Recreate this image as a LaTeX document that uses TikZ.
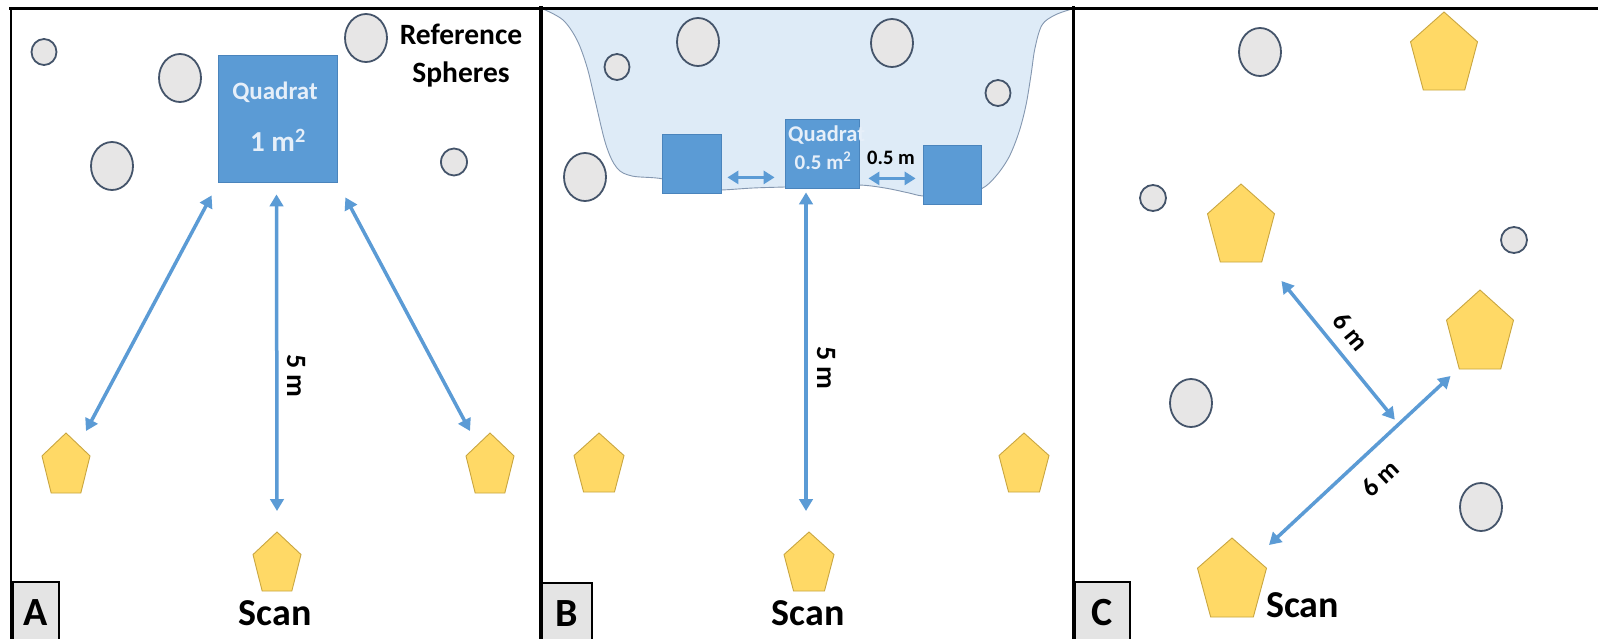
\documentclass[tikz,border=0pt]{standalone}
\usepackage{fontspec}
\setmainfont{Carlito}
\usetikzlibrary{shapes.geometric,arrows.meta,calc}

\definecolor{arrowblue}{HTML}{5B9BD5}
\definecolor{quadfill}{HTML}{5B9BD5}
\definecolor{quadedge}{HTML}{4A84BC}
\definecolor{quadtext}{HTML}{E6EFF9}
\definecolor{spherefill}{HTML}{E7E6E6}
\definecolor{sphereedge}{HTML}{44546A}
\definecolor{scanfill}{HTML}{FFD966}
\definecolor{scanedge}{HTML}{C9A640}
\definecolor{waterfill}{HTML}{DEEBF7}
\definecolor{wateredge}{HTML}{8497B0}
\definecolor{tagfill}{HTML}{E4E4E4}

\tikzset{
  sphere/.style={ellipse, draw=sphereedge, fill=spherefill, line width=1.8pt, inner sep=0pt},
  quadrat/.style={rectangle, draw=quadedge, fill=quadfill, line width=0.8pt, inner sep=0pt},
  scanbox/.style={rectangle, inner sep=0pt, outer sep=0pt, draw=none},
  scanshape/.style={draw=scanedge, fill=scanfill, line width=0.9pt, line join=miter},
  dimarrow/.style={draw=arrowblue, line width=3.5pt,
    {Triangle[width=13.5pt,length=12pt]}-{Triangle[width=13.5pt,length=12pt]}},
  smallarrow/.style={draw=arrowblue, line width=3.6pt,
    {Triangle[width=13pt,length=11pt]}-{Triangle[width=13pt,length=11pt]}},
  txt/.style={font=\bfseries\fontsize{#1}{#1}\selectfont, inner sep=0pt},
  water/.style={fill=waterfill, draw=wateredge, line width=0.9pt},
  frame/.style={draw=black, line cap=rect},
  tag/.style={rectangle, draw=black, fill=tagfill, line width=1.5pt, inner sep=0pt,
    font=\bfseries\fontsize{40}{40}\selectfont},
}

% scan position: invisible box named #1 at (#2,#3), size #4 x #5, with a pentagon inside
\newcommand\scanmark[5]{%
  \node[scanbox, minimum width=#4pt, minimum height=#5pt] (#1) at (#2,#3) {};
  \draw[scanshape] (#1.north)
    -- ($(#1.north east)!0.382!(#1.south east)$)
    -- ($(#1.south west)!0.809!(#1.south east)$)
    -- ($(#1.south west)!0.191!(#1.south east)$)
    -- ($(#1.north west)!0.382!(#1.south west)$) -- cycle;
}

\begin{document}
\begin{tikzpicture}[x=1pt,y=-1pt]
\useasboundingbox (0,0) rectangle (1598,638);
\fill[white] (0,0) rectangle (1598,638);

% ---------- panel B: shaded area behind the quadrats
\filldraw[water] plot[smooth, tension=0.55] coordinates {
  (543,9) (563,20) (577,40) (587,67) (595,100) (606,145) (617,168) (632,176)
  (663,179) (692,190) (721,190) (753,188) (785,187) (822,186) (859,185)
  (885,188) (909,193) (923,196) (952,197) (981,189) (996,176) (1009,157)
  (1019,132) (1026,105) (1031,75) (1035,48) (1042,25) (1055,15) (1072,9)} -- cycle;

% ---------- panel A
\node[sphere, minimum width=25pt, minimum height=26pt] (sA1) at (44,52) {};
\node[sphere, minimum width=42pt, minimum height=48pt] (sA2) at (180,78) {};
\node[sphere, minimum width=42pt, minimum height=48pt] (sA3) at (366,38) {};
\node[sphere, minimum width=42pt, minimum height=48pt] (sA4) at (112,166) {};
\node[sphere, minimum width=26pt, minimum height=27pt] (sA5) at (454,162) {};

\node[quadrat, minimum width=119pt, minimum height=127pt] (qA) at (277.5,118.5) {};
\node[txt=25, text=quadtext] (qAname) at (275,92) {Quadrat};
\node[txt=29, text=quadtext] (qAarea) at (278,140) {1 m\textsuperscript{2}};

\node[txt=29.5, anchor=base] (refA) at (461,44) {Reference};
\node[txt=29.5, anchor=base] (refB) at (461,82) {Spheres};

\scanmark{pA1}{66}{463}{48}{60}
\scanmark{pA2}{490}{463}{48}{60}
\scanmark{pA3}{277}{561.5}{48}{59}

\draw[dimarrow] ([shift={(-6,13)}]qA.south west) -- ([shift={(-4,-2)}]pA1.north east);
\draw[dimarrow] ([shift={(-1,12)}]qA.south) -- ([shift={(0,-21)}]pA3.north);
\draw[dimarrow] ([shift={(8,15)}]qA.south east) -- ([shift={(4,-2)}]pA2.north west);
\node[txt=28, rotate=-90] (dA) at (296,376) {5 m};

\node[txt=38, anchor=base] (scanA) at (275,625) {Scan};

% ---------- panel B
\node[sphere, minimum width=25pt, minimum height=26pt] (sB1) at (617,67) {};
\node[sphere, minimum width=42pt, minimum height=48pt] (sB2) at (698,42) {};
\node[sphere, minimum width=42pt, minimum height=48pt] (sB3) at (892,43) {};
\node[sphere, minimum width=25pt, minimum height=26pt] (sB4) at (998,93) {};
\node[sphere, minimum width=42pt, minimum height=48pt] (sB5) at (585,177) {};

\node[quadrat, minimum width=59pt, minimum height=59pt] (bL) at (691.5,163.5) {};
\node[quadrat, minimum width=74pt, minimum height=69pt] (qB) at (822,153.5) {};
\node[quadrat, minimum width=58pt, minimum height=59pt] (bR) at (952,174.5) {};
\node[txt=22.5, text=quadtext, anchor=west] (qBname) at (788,135) {Quadrat};
\node[txt=21, text=quadtext] (qBarea) at (823,161) {0.5 m\textsuperscript{2}};
\node[txt=20.5] (gapB) at (891,158) {0.5 m};

\draw[smallarrow] ([shift={(6,-16)}]bL.south east) -- ([shift={(-10,-11)}]qB.south west);
\draw[smallarrow] ([shift={(9,-10)}]qB.south east) -- ([shift={(-7,-26)}]bR.south west);

\scanmark{pB1}{599}{462.5}{50}{59}
\scanmark{pB2}{1024}{462.5}{50}{59}
\scanmark{pB3}{809}{561.5}{50}{59}

\draw[dimarrow] ([shift={(-16,4)}]qB.south) -- ([shift={(-3,-21)}]pB3.north);
\node[txt=28, rotate=-90] (dB) at (826,368) {5 m};

\node[txt=38, anchor=base] (scanB) at (808,625) {Scan};

% ---------- panel C
\node[sphere, minimum width=42pt, minimum height=48pt] (sC1) at (1260,52) {};
\node[sphere, minimum width=26pt, minimum height=26pt] (sC2) at (1153,198) {};
\node[sphere, minimum width=26pt, minimum height=26pt] (sC3) at (1514,240) {};
\node[sphere, minimum width=42pt, minimum height=48pt] (sC4) at (1191,403) {};
\node[sphere, minimum width=42pt, minimum height=48pt] (sC5) at (1481,507) {};

\scanmark{pC1}{1444}{51}{67}{78}
\scanmark{pC2}{1241}{223}{67}{78}
\scanmark{pC3}{1480}{329.5}{67}{79}
\scanmark{pC4}{1232}{577.5}{69}{79}

\coordinate (lowS) at ([shift={(2.5,7)}]pC4.north east);
\coordinate (lowE) at ([shift={(4,7)}]pC3.south west);
\draw[dimarrow] (lowS) -- (lowE);
\draw[dimarrow, shorten >=6pt] ([shift={(7,19)}]pC2.south east) -- ($(lowS)!0.714!(lowE)$);
\node[txt=26, rotate=-51] (dC1) at (1351,332) {6 m};
\node[txt=26, rotate=43] (dC2) at (1380,478) {6 m};

\node[txt=38, anchor=base west] (scanC) at (1266,617) {Scan};

% ---------- frame and panel tags
\draw[frame, line width=2.5pt] (10,8.5) -- (1598,8.5);
\draw[frame, line width=2.5pt] (11,8) -- (11,640);
\draw[frame, line width=4pt] (541,8) -- (541,640);
\draw[frame, line width=3.5pt] (1073.5,8) -- (1073.5,640);

\node[tag, minimum width=46pt, minimum height=61pt, anchor=north west] (tagA) at (12,581) {A};
\node[tag, minimum width=50pt, minimum height=61pt, anchor=north west] (tagB) at (541,582) {B};
\node[tag, minimum width=55pt, minimum height=61pt, anchor=north west] (tagC) at (1074,581) {C};
\end{tikzpicture}
\end{document}
